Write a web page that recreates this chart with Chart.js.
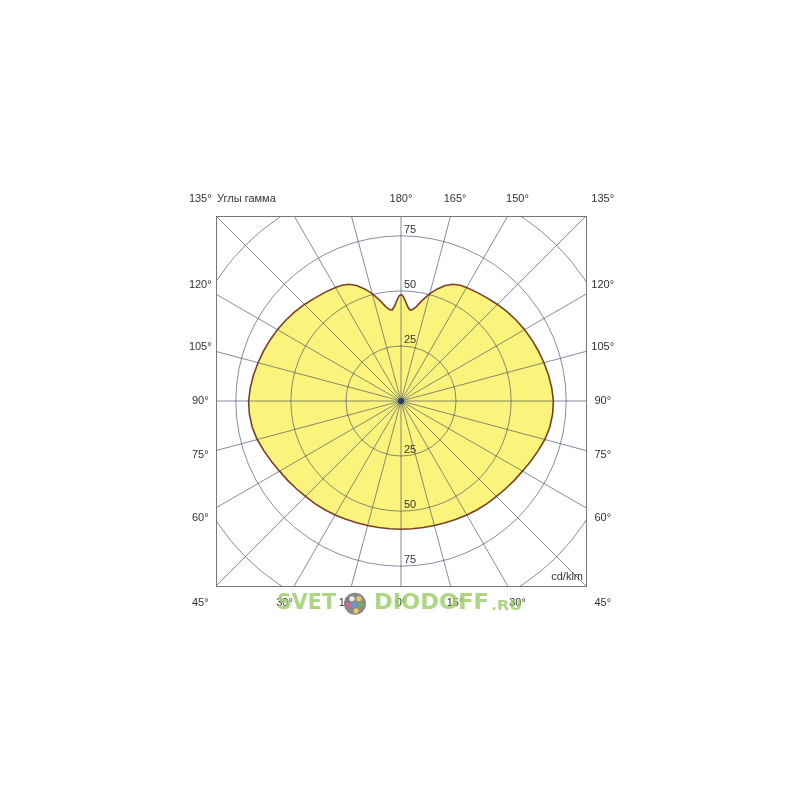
<!DOCTYPE html>
<html>
<head>
<meta charset="utf-8">
<script src="https://cdn.jsdelivr.net/npm/chart.js@4"></script>
<style>
  html, body { margin: 0; padding: 0; background: #fff; }
  #wrap { width: 800px; height: 800px; }
</style>
</head>
<body>
<div id="wrap"><canvas id="polarChart"></canvas></div>
<script>
// кривая силы света (cd/klm) по углу гамма, 0° внизу, 180° вверху
const gammaAngles = [0, 5, 10, 15, 20, 25, 30, 35, 40, 45, 50, 55, 60, 65, 70, 75, 80, 85, 90, 95, 100, 105, 110, 115, 120, 125, 130, 135, 140, 145, 150, 153, 156, 159, 162, 165, 168, 171, 173, 174.5, 176, 177.5, 179, 180];
const intensity   = [58.2, 58.2, 58.3, 58.5, 58.8, 59.2, 59.8, 60.3, 60.8, 61.3, 62, 62.8, 63.7, 64.9, 66.2, 67.6, 68.6, 69.1, 69.2, 68.7, 68, 67.2, 66.4, 65.6, 64.8, 63.9, 63, 62, 61, 60.2, 59.5, 59, 58, 56.2, 53.5, 50.5, 46.8, 43.2, 41.8, 41.6, 43, 45.5, 47.8, 48.3];

const rings = [25, 50, 75, 100];
const ringLabels = ['25', '50', '75'];
const sideAngles = [135, 120, 105, 90, 75, 60, 45];
const bottomAngles = [30, 15, 0, 15, 30];
const topAngles = [180, 165, 150];

const axisMax = 84;
const labelDist = 91.6;
const rad = d => d * Math.PI / 180;

// правая половина 0..180, потом левая 180..0
const outline = [];
gammaAngles.forEach((g, i) => {
    outline.push({ x: intensity[i] * Math.sin(rad(g)), y: -intensity[i] * Math.cos(rad(g)) });
});
for (let i = gammaAngles.length - 1; i >= 0; i--) {
    const g = gammaAngles[i];
    outline.push({ x: -intensity[i] * Math.sin(rad(g)), y: -intensity[i] * Math.cos(rad(g)) });
}

// текст, растянутый по ширине
function stretchText(ctx, text, x, y, w) {
    const m = ctx.measureText(text).width;
    ctx.save();
    ctx.translate(x, y);
    ctx.scale(w / m, 1);
    ctx.fillText(text, 0, 0);
    ctx.restore();
}

const gridPlugin = {
    id: 'polarGrid',
    afterDatasetsDraw(chart) {
        const ctx = chart.ctx;
        const xs = chart.scales.x, ys = chart.scales.y;
        const a = chart.chartArea;
        const cx = xs.getPixelForValue(0), cy = ys.getPixelForValue(0);
        const pxPerUnit = xs.getPixelForValue(1) - cx;

        ctx.save();
        ctx.beginPath();
        ctx.rect(a.left, a.top, a.right - a.left, a.bottom - a.top);
        ctx.clip();
        ctx.strokeStyle = 'rgba(55,65,95,0.6)';
        ctx.lineWidth = 1;
        rings.forEach(r => {
            ctx.beginPath();
            ctx.arc(cx, cy, r * pxPerUnit, 0, Math.PI * 2);
            ctx.stroke();
        });
        for (let g = 0; g < 360; g += 15) {
            const ex = xs.getPixelForValue(200 * Math.sin(rad(g)));
            const ey = ys.getPixelForValue(-200 * Math.cos(rad(g)));
            ctx.beginPath();
            ctx.moveTo(cx, cy);
            ctx.lineTo(ex, ey);
            ctx.stroke();
        }
        ctx.restore();

        // рамка
        ctx.save();
        ctx.strokeStyle = '#777';
        ctx.lineWidth = 1;
        ctx.strokeRect(Math.round(a.left) + 0.5, Math.round(a.top) + 0.5, Math.round(a.right - a.left), Math.round(a.bottom - a.top));

        // центр
        ctx.fillStyle = '#2c3c6c';
        ctx.beginPath();
        ctx.arc(cx, cy, 3, 0, Math.PI * 2);
        ctx.fill();

        ctx.fillStyle = '#333';
        ctx.font = '11px "Liberation Sans", Arial, sans-serif';
        ctx.textBaseline = 'middle';

        // подписи радиусов
        ctx.textAlign = 'left';
        ringLabels.forEach(t => {
            const r = Number(t) * pxPerUnit;
            ctx.fillText(t, cx + 3, cy - r - 6);
            ctx.fillText(t, cx + 3, cy + r - 6);
        });

        // углы по бокам
        ctx.textAlign = 'center';
        sideAngles.forEach(g => {
            const yv = -labelDist * Math.cos(rad(g)) / Math.sin(rad(g));
            const py = ys.getPixelForValue(yv);
            ctx.fillText(g + '°', xs.getPixelForValue(-labelDist) + 1, py);
            ctx.fillText(g + '°', xs.getPixelForValue(labelDist), py);
        });
        bottomAngles.forEach((g, i) => {
            const sgn = i < 2 ? -1 : 1;
            ctx.fillText(g + '°', xs.getPixelForValue(sgn * labelDist * Math.tan(rad(g))), ys.getPixelForValue(-labelDist));
        });
        topAngles.forEach(g => {
            ctx.fillText(g + '°', xs.getPixelForValue(labelDist * Math.tan(rad(180 - g))), ys.getPixelForValue(labelDist));
        });
        ctx.textAlign = 'left';
        ctx.fillText('Углы гамма', a.left + 1, ys.getPixelForValue(labelDist));
        ctx.textAlign = 'right';
        ctx.fillText('cd/klm', a.right - 3, a.bottom - 9);

        // водяной знак
        ctx.globalAlpha = 0.85;
        const wy = ys.getPixelForValue(-labelDist) + 1;
        ctx.font = 'bold 22px "DejaVu Sans", sans-serif';
        ctx.fillStyle = '#9dcf6c';
        ctx.textAlign = 'left';
        stretchText(ctx, 'SVET', 277, wy, 59);
        stretchText(ctx, 'DIODOFF', 374, wy, 115);
        ctx.font = 'bold 14px "DejaVu Sans", sans-serif';
        stretchText(ctx, '.RU', 491, wy + 3, 31);
        ctx.fillStyle = '#7a7276';
        ctx.beginPath();
        ctx.arc(355, wy, 11, 0, Math.PI * 2);
        ctx.fill();
        const dots = [['#ffffff', -3, -5], ['#e8e04a', 4, -5], ['#4aa8e0', -1, 1], ['#60c060', 6, 1], ['#e060a0', -6, 1], ['#e8e04a', 1, 7]];
        dots.forEach(d => {
            ctx.fillStyle = d[0];
            ctx.beginPath();
            ctx.arc(355 + d[1], wy + d[2], 2.6, 0, Math.PI * 2);
            ctx.fill();
        });
        ctx.restore();
    }
};

new Chart(document.getElementById('polarChart'), {
    type: 'scatter',
    data: {
        datasets: [{
            label: 'I',
            data: outline,
            showLine: true,
            fill: 'shape',
            backgroundColor: '#fbf47c',
            borderColor: '#7a3f24',
            borderWidth: 1.6,
            pointRadius: 0,
            tension: 0
        }]
    },
    options: {
        responsive: true,
        maintainAspectRatio: false,
        animation: false,
        layout: { padding: { left: 216, right: 214, top: 216, bottom: 214 } },
        plugins: { legend: { display: false }, tooltip: { enabled: false } },
        scales: {
            x: { type: 'linear', min: -axisMax, max: axisMax, display: false },
            y: { type: 'linear', min: -axisMax, max: axisMax, display: false }
        }
    },
    plugins: [gridPlugin]
});
</script>
</body>
</html>
